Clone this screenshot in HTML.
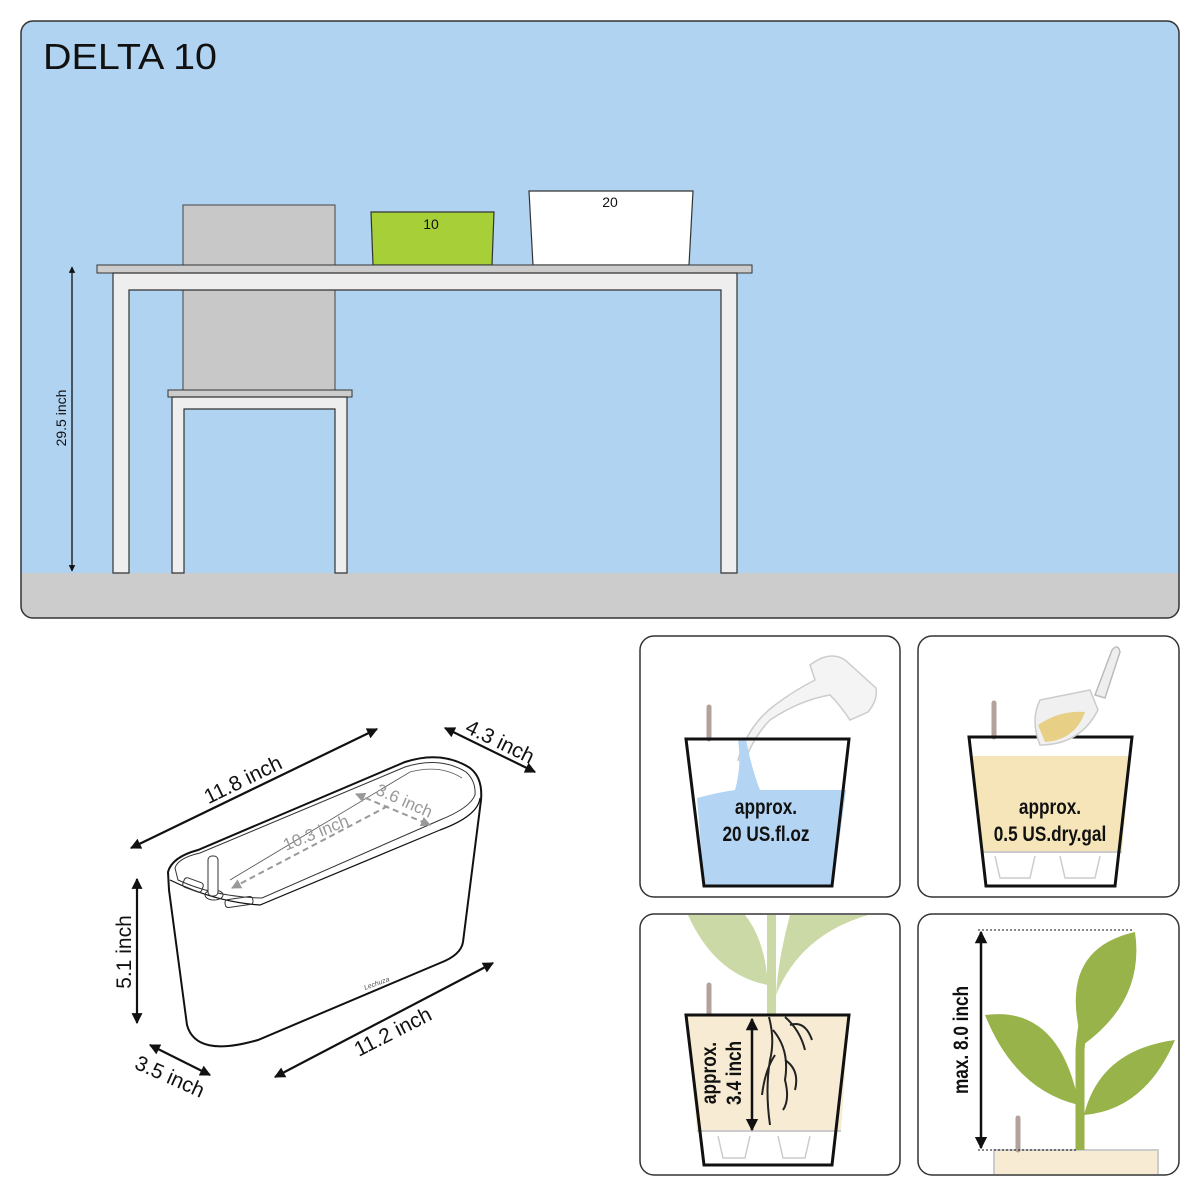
<!DOCTYPE html>
<html><head><meta charset="utf-8"><style>html,body{margin:0;padding:0;background:#fff}svg{display:block}text{font-family:"Liberation Sans",sans-serif}</style></head><body>
<svg width="1200" height="1200" viewBox="0 0 1200 1200" xmlns="http://www.w3.org/2000/svg">
<defs>
<marker id="ah" viewBox="0 0 10 10" refX="9" refY="5" markerWidth="5" markerHeight="5" orient="auto-start-reverse"><path d="M0,0 L10,5 L0,10 Z" fill="#111"/></marker>
<marker id="ag" viewBox="0 0 10 10" refX="9" refY="5" markerWidth="5" markerHeight="5" orient="auto-start-reverse"><path d="M0,0 L10,5 L0,10 Z" fill="#999"/></marker>
<clipPath id="c3"><rect x="641" y="915" width="258" height="259" rx="14"/></clipPath>
<clipPath id="c4"><rect x="919" y="915" width="259" height="259" rx="14"/></clipPath>
</defs>
<rect x="21" y="21" width="1158" height="597" rx="12" fill="#b0d3f1"/>
<path d="M21,573 H1179 V606 Q1179,618 1167,618 H33 Q21,618 21,606 Z" fill="#cccccc"/>
<rect x="21" y="21" width="1158" height="597" rx="12" fill="none" stroke="#333" stroke-width="1.5"/>
<text x="43" y="69" font-size="36" fill="#111" textLength="174" lengthAdjust="spacingAndGlyphs">DELTA 10</text>
<rect x="183" y="205" width="152" height="185" fill="#c8c8c8" stroke="#444" stroke-width="1"/>
<path d="M371,212 H494 L492,265 H373 Z" fill="#a6cf38" stroke="#333" stroke-width="1.2"/>
<text x="431" y="229" font-size="14" text-anchor="middle" fill="#111">10</text>
<path d="M529,191 H693 L689,265 H533 Z" fill="#fff" stroke="#333" stroke-width="1.2"/>
<text x="610" y="207" font-size="14" text-anchor="middle" fill="#111">20</text>
<rect x="97" y="265" width="655" height="8" fill="#ccc" stroke="#333" stroke-width="1"/>
<path d="M113,273 H737 V573 H721 V290 H129 V573 H113 Z" fill="#eee" stroke="#333" stroke-width="1.2"/>
<rect x="168" y="390" width="184" height="7" fill="#ccc" stroke="#333" stroke-width="1"/>
<path d="M172,397 H347 V573 H335 V409 H184 V573 H172 Z" fill="#eee" stroke="#333" stroke-width="1.2"/>
<line x1="72" y1="267" x2="72" y2="571" stroke="#111" stroke-width="1.3" marker-start="url(#ah)" marker-end="url(#ah)"/>
<text transform="translate(66,418) rotate(-90)" font-size="14" text-anchor="middle" fill="#111">29.5 inch</text>

<path d="M168,872 Q172,857 198,850 L405,762 Q442,750 470,768 Q483,778 481,800 L463,942 Q461,955 440,963 L258,1040 Q196,1058 187,1025 L169,890 Z" fill="#fff" stroke="#111" stroke-width="2"/>
<path d="M170,880 Q215,902 260,905 L440,830 Q478,816 480,798" fill="none" stroke="#111" stroke-width="1.2"/>
<path d="M175,868 Q178,858 200,853 L405,767 Q440,756 466,772 Q476,781 475,795 Q470,808 440,820 L262,898 Q215,897 178,880 Z" fill="none" stroke="#333" stroke-width="1"/>
<path d="M230,880 L410,772 Q440,764 462,778" fill="none" stroke="#555" stroke-width="0.8"/>
<rect x="183" y="880" width="20" height="10" rx="3" fill="none" stroke="#333" stroke-width="1" transform="rotate(20 193 885)"/>
<rect x="225" y="898" width="28" height="8" rx="3" fill="none" stroke="#333" stroke-width="1" transform="rotate(-8 239 902)"/>
<ellipse cx="214" cy="895" rx="9" ry="5" fill="none" stroke="#333"/>
<rect x="208" y="856" width="10" height="40" rx="4" fill="#fff" stroke="#333"/>
<text transform="translate(365,990) rotate(-20)" font-size="7" font-style="italic" fill="#555">Lechuza</text>
<line x1="232" y1="888" x2="388" y2="806" stroke="#999" stroke-width="2" stroke-dasharray="6,4" marker-start="url(#ag)"/>
<text transform="translate(318,838) rotate(-22)" font-size="17" text-anchor="middle" fill="#999">10.3 inch</text>
<line x1="356" y1="794" x2="430" y2="825" stroke="#999" stroke-width="2" stroke-dasharray="6,4" marker-start="url(#ag)" marker-end="url(#ag)"/>
<text transform="translate(402,806) rotate(24)" font-size="17" text-anchor="middle" fill="#999">3.6 inch</text>
<line x1="131" y1="848" x2="377" y2="729" stroke="#111" stroke-width="2.2" marker-start="url(#ah)" marker-end="url(#ah)"/>
<text transform="translate(246,786) rotate(-26)" font-size="21" text-anchor="middle" fill="#111">11.8 inch</text>
<line x1="445" y1="728" x2="535" y2="772" stroke="#111" stroke-width="2.2" marker-start="url(#ah)" marker-end="url(#ah)"/>
<text transform="translate(497,748) rotate(26)" font-size="21" text-anchor="middle" fill="#111">4.3 inch</text>
<line x1="137" y1="879" x2="137" y2="1023" stroke="#111" stroke-width="2.2" marker-start="url(#ah)" marker-end="url(#ah)"/>
<text transform="translate(131,952) rotate(-90)" font-size="21" text-anchor="middle" fill="#111">5.1 inch</text>
<line x1="150" y1="1045" x2="210" y2="1075" stroke="#111" stroke-width="2.2" marker-start="url(#ah)" marker-end="url(#ah)"/>
<text transform="translate(167,1083) rotate(24)" font-size="21" text-anchor="middle" fill="#111">3.5 inch</text>
<line x1="275" y1="1077" x2="493" y2="963" stroke="#111" stroke-width="2.2" marker-start="url(#ah)" marker-end="url(#ah)"/>
<text transform="translate(396,1038) rotate(-27)" font-size="21" text-anchor="middle" fill="#111">11.2 inch</text>

<rect x="640" y="636" width="260" height="261" rx="14" fill="#fff" stroke="#333" stroke-width="1.5"/>
<line x1="709" y1="707" x2="709" y2="739" stroke="#b2a29b" stroke-width="5" stroke-linecap="round"/>
<path d="M810,665 Q830,650 845,660 L876,688 Q878,700 868,712 L850,720 Q840,705 830,695 Q800,700 770,720 Q755,735 745,760 L738,760 Q748,725 775,705 Q795,690 815,680 Z" fill="#f4f4f4" stroke="#ccc" stroke-width="1.5"/>
<path d="M697,798 Q720,792 735,790 Q742,765 738,740 L746,740 Q752,770 760,790 Q800,790 846,790 L833,886 H704 Z" fill="#b3d4f3"/>
<path d="M686,739 H849 L832,886 H704 Z" fill="none" stroke="#111" stroke-width="3"/>
<text x="766" y="814" font-size="21" font-weight="bold" text-anchor="middle" fill="#111" transform="translate(766 0) scale(0.82 1) translate(-766 0)">approx.</text>
<text x="766" y="841" font-size="21" font-weight="bold" text-anchor="middle" fill="#111" transform="translate(766 0) scale(0.82 1) translate(-766 0)">20 US.fl.oz</text>

<rect x="918" y="636" width="261" height="261" rx="14" fill="#fff" stroke="#333" stroke-width="1.5"/>
<line x1="994" y1="703" x2="994" y2="737" stroke="#b2a29b" stroke-width="5" stroke-linecap="round"/>
<path d="M971,756 H1130 L1122,852 H983 Z" fill="#f5e5b8"/>
<path d="M995,856 L1000,878 H1030 L1035,856 M1060,856 L1065,878 H1095 L1100,856" fill="none" stroke="#ccc" stroke-width="1.5"/>
<line x1="983" y1="852" x2="1122" y2="852" stroke="#ccc" stroke-width="2"/>
<path d="M969,737 H1132 L1115,886 H986 Z" fill="none" stroke="#111" stroke-width="3"/>
<path d="M1095,695 L1112,650 Q1118,643 1120,652 L1105,698 Z" fill="#eee" stroke="#bbb" stroke-width="1.5"/>
<path d="M1040,700 L1090,690 L1098,710 Q1080,745 1040,745 Q1030,720 1040,700 Z" fill="#f0f0f0" stroke="#ccc" stroke-width="1.5"/>
<path d="M1038,725 Q1060,710 1085,712 Q1075,740 1045,742 Z" fill="#e8cf86"/>
<text x="1050" y="814" font-size="21" font-weight="bold" text-anchor="middle" fill="#111" transform="translate(1050 0) scale(0.82 1) translate(-1050 0)">approx.</text>
<text x="1050" y="841" font-size="21" font-weight="bold" text-anchor="middle" fill="#111" transform="translate(1050 0) scale(0.82 1) translate(-1050 0)">0.5 US.dry.gal</text>

<rect x="640" y="914" width="260" height="261" rx="14" fill="#fff" stroke="#333" stroke-width="1.5"/>
<g clip-path="url(#c3)">
<path d="M688,915 Q715,975 768,985 Q765,940 745,915 Z" fill="#cbd9a6"/>
<path d="M776,995 Q800,935 868,915 L790,915 Q778,960 776,995 Z" fill="#cbd9a6"/>
<rect x="767" y="915" width="9" height="100" fill="#cbd9a6"/>
</g>
<line x1="709" y1="985" x2="709" y2="1015" stroke="#b2a29b" stroke-width="5" stroke-linecap="round"/>
<path d="M686,1015 H849 L841,1131 H697 Z" fill="#f7ecd3"/>
<line x1="697" y1="1131" x2="841" y2="1131" stroke="#ccc" stroke-width="2"/>
<path d="M718,1136 L723,1158 H745 L750,1136 M778,1136 L783,1158 H805 L810,1136" fill="none" stroke="#ccc" stroke-width="1.5"/>
<path d="M769,1017 Q775,1040 770,1060 Q765,1090 770,1125 M773,1030 Q790,1050 785,1080 Q790,1100 783,1110 M785,1017 Q800,1030 805,1050 M790,1025 Q805,1020 812,1040 M775,1055 Q765,1070 762,1095 M785,1060 Q800,1070 795,1090" fill="none" stroke="#222" stroke-width="2"/>
<path d="M686,1015 H849 L832,1165 H704 Z" fill="none" stroke="#111" stroke-width="3"/>
<line x1="752" y1="1019" x2="752" y2="1130" stroke="#111" stroke-width="2.5" marker-start="url(#ah)" marker-end="url(#ah)"/>
<text transform="translate(716,1073) rotate(-90) scale(0.82 1)" font-size="21" font-weight="bold" text-anchor="middle" fill="#111">approx.</text>
<text transform="translate(741,1073) rotate(-90) scale(0.82 1)" font-size="21" font-weight="bold" text-anchor="middle" fill="#111">3.4 inch</text>

<rect x="918" y="914" width="261" height="261" rx="14" fill="#fff" stroke="#333" stroke-width="1.5"/>
<g clip-path="url(#c4)">
<rect x="994" y="1150" width="164" height="30" fill="#f7ecd3" stroke="#ccc" stroke-width="2"/>
<path d="M1080,1150 V1050 Q1082,1020 1090,1000" stroke="#99b34a" stroke-width="9" fill="none"/>
<path d="M1083,1045 Q1055,950 1135,932 Q1145,1000 1083,1045 Z" fill="#97b34a"/>
<path d="M1079,1105 Q1060,1005 985,1015 Q1015,1090 1079,1105 Z" fill="#97b34a"/>
<path d="M1084,1115 Q1100,1050 1175,1040 Q1145,1110 1084,1115 Z" fill="#97b34a"/>
<line x1="1018" y1="1118" x2="1018" y2="1150" stroke="#b2a29b" stroke-width="5" stroke-linecap="round"/>
</g>
<line x1="978" y1="930" x2="1132" y2="930" stroke="#111" stroke-width="1" stroke-dasharray="2,2"/>
<line x1="978" y1="1150" x2="1078" y2="1150" stroke="#111" stroke-width="1" stroke-dasharray="2,2"/>
<line x1="981" y1="932" x2="981" y2="1148" stroke="#111" stroke-width="2.5" marker-start="url(#ah)" marker-end="url(#ah)"/>
<text transform="translate(968,1040) rotate(-90) scale(0.82 1)" font-size="21" font-weight="bold" text-anchor="middle" fill="#111">max. 8.0 inch</text>
</svg>
</body></html>
